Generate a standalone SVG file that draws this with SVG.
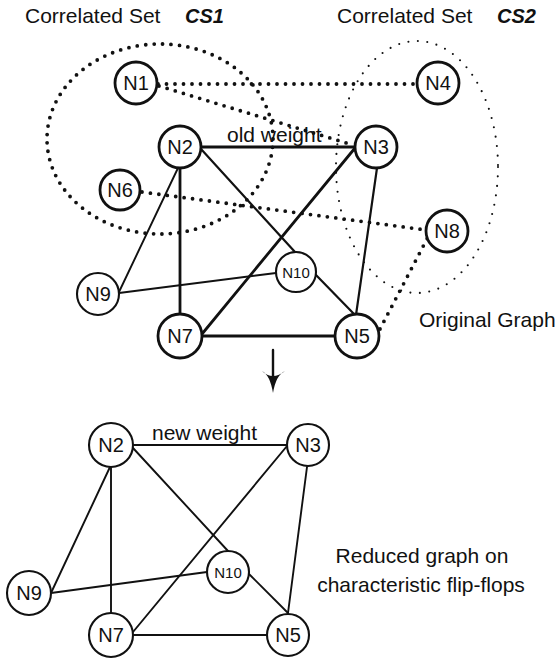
<svg xmlns="http://www.w3.org/2000/svg" width="559" height="659" viewBox="0 0 559 659">
  <style>
    .lbl { font-family: "Liberation Sans", Arial, sans-serif; font-size: 21px; fill: #111; }
    .cs { font-family: "Liberation Sans", Arial, sans-serif; font-size: 20px; font-weight: bold; font-style: italic; fill: #111; }
    .nt { font-family: "Liberation Sans", Arial, sans-serif; font-size: 20px; fill: #111; text-anchor: middle; }
    .nt.small { font-size: 15px; }
    .node { fill: #fff; stroke: #111; stroke-width: 2.8; }
    .node.thin { stroke-width: 2.1; }
    .e { stroke: #111; fill: none; stroke-linecap: round; }
    .thick { stroke-width: 2.8; }
    .med { stroke-width: 2.2; }
    .thin { stroke-width: 1.9; }
    .dots { stroke: #111; fill: none; stroke-width: 3.8; stroke-linecap: round; stroke-dasharray: 0 8.5; }
    .fine { stroke: #111; fill: none; stroke-width: 2.1; stroke-linecap: round; stroke-dasharray: 0 9.5; }
  </style>

  <!-- correlated-set outlines -->
  <g id="sets">
    <ellipse id="cs1" class="dots" cx="160" cy="139" rx="113" ry="95"/>
    <ellipse id="cs2" class="fine" cx="417" cy="167" rx="81" ry="126"/>
  </g>

  <!-- top graph connectors -->
  <g id="connectors-original">
    <line class="dots" x1="158" y1="84" x2="417" y2="84"/>
    <line class="dots" x1="159" y1="86" x2="353" y2="145"/>
    <line class="dots" x1="142" y1="192" x2="426" y2="230"/>
    <line class="dots" x1="380" y1="329" x2="428" y2="237"/>

    <line class="e thick" x1="201" y1="147" x2="355" y2="147"/>
    <line class="e thick" x1="180" y1="168" x2="180" y2="315"/>
    <line class="e thin" x1="178" y1="168" x2="119" y2="292"/>
    <line class="e med" x1="201" y1="149" x2="295" y2="252"/>
    <line class="e thick" x1="355" y1="148" x2="202" y2="334"/>
    <line class="e med" x1="377" y1="168" x2="356" y2="315"/>
    <line class="e thin" x1="119" y1="293" x2="276" y2="273"/>
    <line class="e med" x1="315" y1="274" x2="355" y2="315"/>
    <line class="e thick" x1="202" y1="336" x2="336" y2="336"/>
  </g>

  <!-- reduction arrow -->
  <g id="arrow">
    <line class="e" stroke-width="2.4" x1="273" y1="350" x2="273" y2="376"/>
    <path d="M262,371 Q270,375 273,393 Q276,375 285,371 Q279,376 273,376 Q267,376 262,371 Z" fill="#111"/>
  </g>

  <!-- bottom graph connectors -->
  <g id="connectors-reduced">
    <line class="e thin" x1="133" y1="445" x2="287" y2="445"/>
    <line class="e thin" x1="111" y1="467" x2="111" y2="613"/>
    <line class="e thin" x1="110" y1="467" x2="51" y2="593"/>
    <line class="e thin" x1="133" y1="448" x2="228" y2="551"/>
    <line class="e thin" x1="287" y1="446" x2="133" y2="632"/>
    <line class="e thin" x1="307" y1="467" x2="288" y2="613"/>
    <line class="e thin" x1="51" y1="593" x2="207" y2="572"/>
    <line class="e thin" x1="249" y1="574" x2="288" y2="613"/>
    <line class="e thin" x1="133" y1="635" x2="267" y2="635"/>
  </g>

  <!-- labels -->
  <g id="labels">
    <text class="lbl" x="25" y="23">Correlated Set</text>
    <text class="cs" x="185" y="23">CS1</text>
    <text class="lbl" x="337" y="23">Correlated Set</text>
    <text class="cs" x="497" y="23">CS2</text>
    <text class="lbl" x="227" y="142">old weight</text>
    <text class="lbl" x="419" y="327">Original Graph</text>
    <text class="lbl" x="152" y="440">new weight</text>
    <text class="lbl" x="422" y="563" text-anchor="middle">Reduced graph on</text>
    <text class="lbl" x="421" y="592" text-anchor="middle">characteristic flip-flops</text>
  </g>

  <!-- original graph nodes -->
  <g id="o-N1"><circle class="node" cx="136" cy="83" r="21"/><text class="nt" x="136" y="90">N1</text></g>
  <g id="o-N4"><circle class="node" cx="438" cy="83" r="21"/><text class="nt" x="438" y="90">N4</text></g>
  <g id="o-N2"><circle class="node" cx="180" cy="147" r="21"/><text class="nt" x="180" y="154">N2</text></g>
  <g id="o-N3"><circle class="node" cx="376" cy="147" r="21"/><text class="nt" x="376" y="154">N3</text></g>
  <g id="o-N6"><circle class="node" cx="120" cy="190" r="20"/><text class="nt" x="120" y="197">N6</text></g>
  <g id="o-N8"><circle class="node" cx="447" cy="231" r="21"/><text class="nt" x="447" y="238">N8</text></g>
  <g id="o-N9"><circle class="node thin" cx="98" cy="294" r="21"/><text class="nt" x="98" y="301">N9</text></g>
  <g id="o-N10"><circle class="node thin" cx="296" cy="272" r="20"/><text class="nt small" x="296" y="278">N10</text></g>
  <g id="o-N7"><circle class="node" cx="180" cy="336" r="22"/><text class="nt" x="180" y="343">N7</text></g>
  <g id="o-N5"><circle class="node" cx="357" cy="336" r="22"/><text class="nt" x="357" y="343">N5</text></g>

  <!-- reduced graph nodes -->
  <g id="r-N2"><circle class="node thin" cx="111" cy="445" r="22"/><text class="nt" x="111" y="452">N2</text></g>
  <g id="r-N3"><circle class="node thin" cx="308" cy="445" r="21"/><text class="nt" x="308" y="452">N3</text></g>
  <g id="r-N10"><circle class="node thin" cx="228" cy="572" r="21"/><text class="nt small" x="228" y="578">N10</text></g>
  <g id="r-N9"><circle class="node thin" cx="29" cy="593" r="22"/><text class="nt" x="29" y="600">N9</text></g>
  <g id="r-N7"><circle class="node thin" cx="111" cy="635" r="22"/><text class="nt" x="111" y="642">N7</text></g>
  <g id="r-N5"><circle class="node thin" cx="288" cy="635" r="21"/><text class="nt" x="288" y="642">N5</text></g>
</svg>
